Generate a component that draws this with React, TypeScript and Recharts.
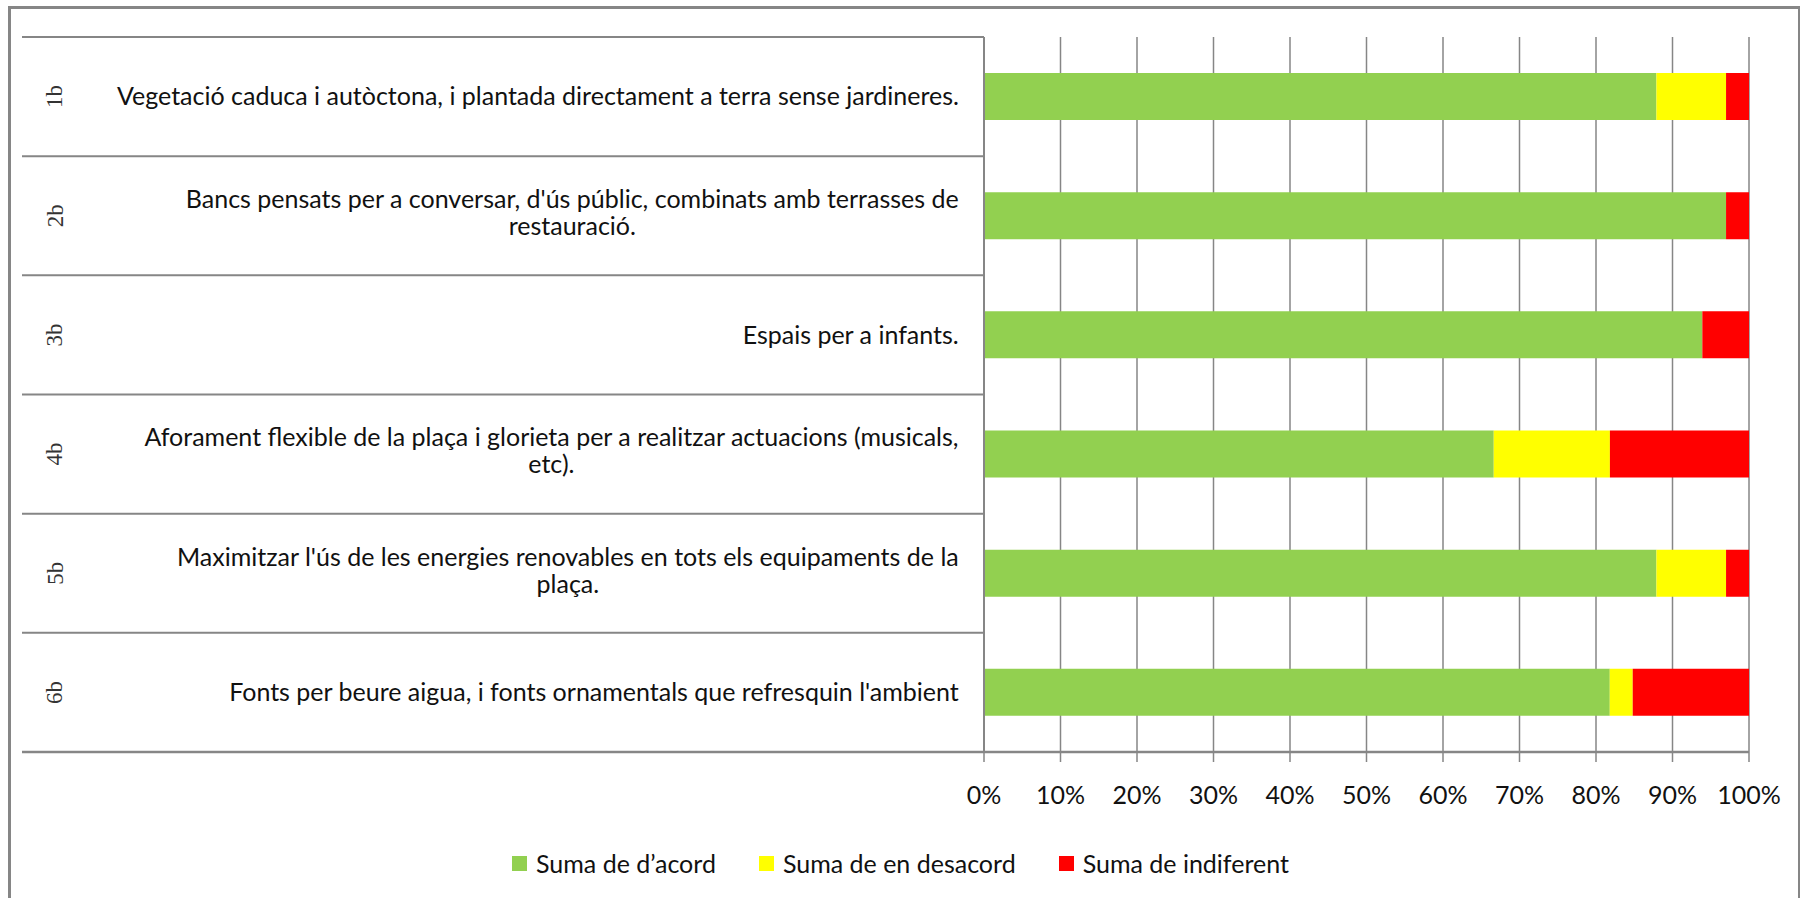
import { BarChart, Bar, XAxis, YAxis, CartesianGrid, Legend } from "recharts"

// Percentatges per pregunta (llegits del gràfic)
const codes = ["1b", "2b", "3b", "4b", "5b", "6b"]
const questions = [
    "Vegetació caduca i autòctona, i plantada directament a terra sense jardineres.",
    "Bancs pensats per a conversar, d'ús públic, combinats amb terrasses de\nrestauració.",
    "Espais per a infants.",
    "Aforament flexible de la plaça i glorieta per a realitzar actuacions (musicals,\netc).",
    "Maximitzar l'ús de les energies renovables en tots els equipaments de la\nplaça.",
    "Fonts per beure aigua, i fonts ornamentals que refresquin l'ambient",
]
const acord = [87.9, 97.0, 93.9, 66.7, 87.9, 81.8]
const desacord = [9.1, 0, 0, 15.2, 9.1, 3.0]
const indiferent = [3.0, 3.0, 6.1, 18.2, 3.0, 15.2]
const xTicks = [0, 0.1, 0.2, 0.3, 0.4, 0.5, 0.6, 0.7, 0.8, 0.9, 1]

const seriesNames = ["Suma de d\u2019acord", "Suma de en desacord", "Suma de indiferent"]
const seriesColors = ["#92D050", "#FFFF00", "#FF0000"]

const data = codes.map((code, i) => ({
    code,
    question: questions[i],
    acord: acord[i],
    desacord: desacord[i],
    indiferent: indiferent[i],
}))

const W = 1801
const H = 898
const AXIS_X = 984
const GRAY = "#868686"
const SANS = "Lato, 'Open Sans', sans-serif"
const FONT_SIZE = 25

let ctx: CanvasRenderingContext2D | null = null
function measure(s: string) {
    if (!ctx) ctx = document.createElement("canvas").getContext("2d")
    if (!ctx) return s.length * 10
    ctx.font = `${FONT_SIZE}px ${SANS}`
    return ctx.measureText(s).width
}

function CategoryTick(props: any) {
    const { y, payload, index, visibleTicksCount } = props
    const half = payload?.offset || 715 / 12
    const row = data[index] || data.find((d) => d.code === payload.value)
    const lines = (row?.question || "").split("\n")
    const maxW = Math.max(...lines.map(measure))
    const cx = 959 - maxW / 2
    const lh = 27
    const y0 = y - ((lines.length - 1) * lh) / 2 - (lines.length > 1 ? 3 : 0)
    return (
        <g>
            <line x1={22} x2={AXIS_X} y1={y - half} y2={y - half} stroke={GRAY} strokeWidth={2} />
            {index === visibleTicksCount - 1 && (
                <line x1={22} x2={AXIS_X} y1={y + half} y2={y + half} stroke={GRAY} strokeWidth={2.5} />
            )}
            <text
                x={55}
                y={y}
                transform={`rotate(-90 55 ${y})`}
                textAnchor="middle"
                dominantBaseline="central"
                fontFamily="'Liberation Serif', 'DejaVu Serif', serif"
                fontSize={23}
                fill="#333"
            >
                {payload.value}
            </text>
            <text textAnchor="middle" fontFamily={SANS} fontSize={FONT_SIZE} fill="#111">
                {lines.map((l: string, i: number) => (
                    <tspan key={i} x={cx} y={y0 + i * lh} dy="0.35em">
                        {l}
                    </tspan>
                ))}
            </text>
        </g>
    )
}

function PercentTick(props: any) {
    const { x, y, payload } = props
    return (
        <text x={x} y={y + 33} dy="0.35em" textAnchor="middle" fontFamily={SANS} fontSize={FONT_SIZE} fill="#111">
            {`${Math.round(payload.value * 100)}%`}
        </text>
    )
}

function LegendContent() {
    return (
        <div style={{ display: "flex", justifyContent: "center", alignItems: "center", gap: 43, fontFamily: SANS, fontSize: FONT_SIZE, color: "#111" }}>
            {seriesNames.map((name, i) => (
                <div key={name} style={{ display: "flex", alignItems: "center", gap: 9 }}>
                    <span style={{ width: 15, height: 15, background: seriesColors[i], display: "inline-block" }} />
                    <span>{name}</span>
                </div>
            ))}
        </div>
    )
}

export default function App() {
    return (
        <div style={{ position: "absolute", left: 0, top: 0, width: W, height: H, background: "#fff", overflow: "hidden" }}>
            <div
                style={{
                    position: "absolute",
                    left: 8,
                    top: 6,
                    width: W - 8 - 1,
                    height: H + 20,
                    borderLeft: `3px solid ${GRAY}`,
                    borderTop: `3px solid ${GRAY}`,
                    borderRight: `2px solid ${GRAY}`,
                    boxSizing: "border-box",
                }}
            />
            <BarChart
                width={W}
                height={H}
                data={data}
                layout="vertical"
                stackOffset="expand"
                barSize={47}
                margin={{ top: 37, right: 52, bottom: 106, left: 0 }}
                style={{ position: "absolute", left: 0, top: 0 }}
            >
                <CartesianGrid horizontal={false} vertical stroke={GRAY} strokeWidth={1.5} />
                <XAxis
                    type="number"
                    domain={[0, 1]}
                    ticks={xTicks}
                    height={40}
                    tickSize={10}
                    tickMargin={0}
                    axisLine={{ stroke: GRAY, strokeWidth: 2.5 }}
                    tickLine={{ stroke: GRAY, strokeWidth: 1.5 }}
                    tick={<PercentTick />}
                    interval={0}
                />
                <YAxis
                    type="category"
                    dataKey="code"
                    width={AXIS_X}
                    axisLine={{ stroke: GRAY, strokeWidth: 2 }}
                    tickLine={false}
                    tick={<CategoryTick />}
                    interval={0}
                />
                <Bar dataKey="acord" name={seriesNames[0]} stackId="s" fill={seriesColors[0]} isAnimationActive={false} />
                <Bar dataKey="desacord" name={seriesNames[1]} stackId="s" fill={seriesColors[1]} isAnimationActive={false} />
                <Bar dataKey="indiferent" name={seriesNames[2]} stackId="s" fill={seriesColors[2]} isAnimationActive={false} />
                <Legend
                    layout="horizontal"
                    verticalAlign="middle"
                    align="center"
                    content={<LegendContent />}
                    wrapperStyle={{ top: 848, left: 0, width: W }}
                />
            </BarChart>
        </div>
    )
}
